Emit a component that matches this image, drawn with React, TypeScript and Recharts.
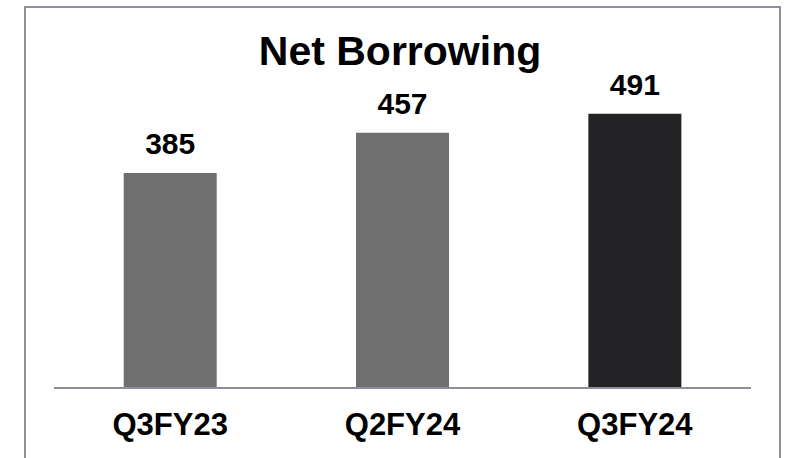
import React from "react";
import { BarChart, Bar, XAxis, YAxis, Cell, LabelList, Customized } from "recharts";

const categories = ["Q3FY23", "Q2FY24", "Q3FY24"];
const values = [385, 457, 491];
const barColors = ["#6f6f6f", "#6f6f6f", "#232326"];
const title = "Net Borrowing";

const data = categories.map((c, i) => ({ name: c, value: values[i] }));
const FONT = "'Liberation Sans', Arial, sans-serif";

const Title = () => (
  <text x={400} y={65} textAnchor="middle" fontFamily={FONT} fontWeight="bold" fontSize={41} fill="#000">
    {title}
  </text>
);

export default function App() {
  return (
    <div style={{ position: "absolute", left: 0, top: 0, width: 786, height: 458, background: "#fff", overflow: "hidden" }}>
      <div
        style={{
          position: "absolute",
          left: 24,
          top: 6,
          width: 757,
          height: 470,
          borderTop: "2px solid #8f909a",
          borderLeft: "2px solid #8f909a",
          borderRight: "2px solid #8f909a",
          boxSizing: "border-box",
        }}
      />
      <div style={{ position: "absolute", left: 0, top: 0 }}>
        <BarChart
          width={786}
          height={458}
          data={data}
          margin={{ top: 53, right: 35, bottom: 20, left: 54 }}
          barCategoryGap="30%"
        >
          <XAxis
            dataKey="name"
            height={50}
            tickLine={false}
            tickSize={0}
            tickMargin={25}
            axisLine={{ stroke: "#8e8e9a", strokeWidth: 2 }}
            tick={{ fill: "#000", fontSize: 31, fontWeight: "bold", fontFamily: FONT }}
          />
          <YAxis hide domain={[0, 600]} />
          <Bar dataKey="value" isAnimationActive={false}>
            {data.map((d, i) => (
              <Cell key={d.name} fill={barColors[i]} />
            ))}
            <LabelList
              dataKey="value"
              position="top"
              offset={19}
              fill="#000"
              fontSize={30}
              fontWeight="bold"
              fontFamily={FONT}
            />
          </Bar>
          <Customized component={Title} />
        </BarChart>
      </div>
    </div>
  );
}
